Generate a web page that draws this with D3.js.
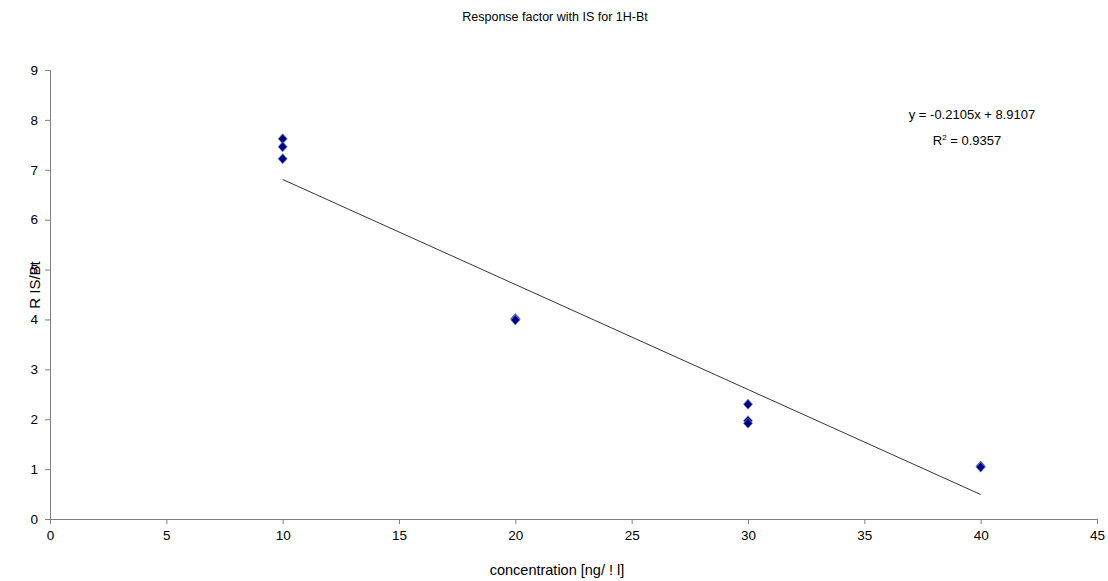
<!DOCTYPE html>
<html>
<head>
<meta charset="utf-8">
<script src="https://cdn.jsdelivr.net/npm/d3@7"></script>
<style>
  body { margin: 0; background: #fff; }
  text { font-family: "Liberation Sans", Arial, sans-serif; fill: #000; }
</style>
</head>
<body>
<div id="chart"></div>
<script>
// concentration values and response factors (replicates at each level)
const concentration = [10, 10, 10, 20, 20, 20, 30, 30, 30, 40, 40, 40];
const responseFactor = [7.62, 7.46, 7.22, 4.02, 4.00, 3.99, 2.30, 1.97, 1.92, 1.05, 1.06, 1.04];
const xTicks = [0, 5, 10, 15, 20, 25, 30, 35, 40, 45];
const yTicks = [0, 1, 2, 3, 4, 5, 6, 7, 8, 9];
const slope = -0.2105, intercept = 8.9107;
const trendRange = [10, 40];

const W = 1108, H = 581;
const margin = {left: 50, right: 11, top: 70, bottom: 62};

const svg = d3.select("#chart").append("svg")
    .attr("width", W)
    .attr("height", H);

const x = d3.scaleLinear().domain([0, 45]).range([margin.left, W - margin.right]);
const y = d3.scaleLinear().domain([0, 9]).range([H - margin.bottom, margin.top]);

// axes
const xAxis = svg.append("g")
    .attr("transform", `translate(0,${y(0)})`)
    .call(d3.axisBottom(x).tickValues(xTicks).tickSize(5).tickPadding(6));
const yAxis = svg.append("g")
    .attr("transform", `translate(${x(0)},0)`)
    .call(d3.axisLeft(y).tickValues(yTicks).tickSize(5).tickPadding(7));

[xAxis, yAxis].forEach(g => {
    g.selectAll("path, line").attr("stroke", "#808080").attr("stroke-width", 1);
    g.selectAll("text").style("font-size", "13.5px").style("font-family", '"Liberation Sans", Arial, sans-serif');
});

// trend line
svg.append("line")
    .attr("x1", x(trendRange[0])).attr("y1", y(slope * trendRange[0] + intercept))
    .attr("x2", x(trendRange[1])).attr("y2", y(slope * trendRange[1] + intercept))
    .attr("stroke", "#000")
    .attr("stroke-width", 0.8);

// diamond markers
const pts = concentration.map((c, i) => ({c: c, r: responseFactor[i]}));
svg.selectAll("path.pt")
    .data(pts)
    .enter().append("path")
    .attr("class", "pt")
    .attr("d", "M0,-5L4.5,0L0,5L-4.5,0Z")
    .attr("transform", d => `translate(${x(d.c)},${y(d.r)})`)
    .attr("fill", "#000080")
    .attr("stroke", "#6f7fd0")
    .attr("stroke-width", 0.8);

// title
svg.append("text")
    .attr("x", 555).attr("y", 21)
    .attr("text-anchor", "middle")
    .style("font-size", "12.5px")
    .text("Response factor with IS for 1H-Bt");

// axis titles
svg.append("text")
    .attr("x", 557).attr("y", 575)
    .attr("text-anchor", "middle")
    .style("font-size", "14.5px")
    .text("concentration [ng/  ! l]");

svg.append("text")
    .attr("transform", `translate(40,285) rotate(-90)`)
    .attr("text-anchor", "middle")
    .style("font-size", "15px")
    .text("R IS/Bt");

// regression label
svg.append("text")
    .attr("x", 972).attr("y", 119)
    .attr("text-anchor", "middle")
    .style("font-size", "13px")
    .text("y = -0.2105x + 8.9107");

const r2 = svg.append("text")
    .attr("x", 967).attr("y", 145)
    .attr("text-anchor", "middle")
    .style("font-size", "13px");
r2.append("tspan").text("R");
r2.append("tspan").attr("dy", -5).style("font-size", "8px").text("2");
r2.append("tspan").attr("dy", 5).text(" = 0.9357");
</script>
</body>
</html>
